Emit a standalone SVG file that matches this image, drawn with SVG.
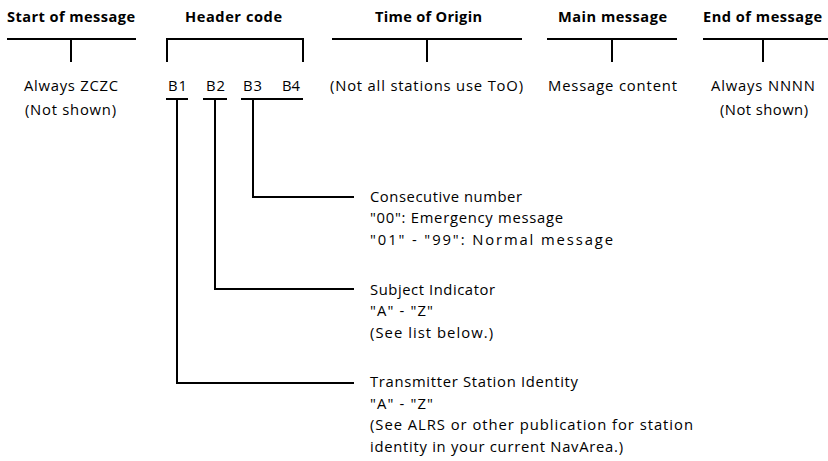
<svg xmlns="http://www.w3.org/2000/svg" width="828" height="461" viewBox="0 0 828 461">
  <style>
    .h { font-family: "Open Sans", "Liberation Sans", sans-serif; font-weight: bold; font-size: 14.6px; fill: #000; }
    .t { font-family: "Open Sans", "Liberation Sans", sans-serif; font-size: 14.8px; fill: #000; }
    .ln { stroke: #000; stroke-width: 2; fill: none; }
  </style>
  <rect width="828" height="461" fill="#fff"/>

  <!-- message sections: title, rule with tick, value -->
  <g id="start">
    <text class="h" x="7" y="21.5" textLength="128">Start of message</text>
    <path class="ln" d="M7 39H136M71 39V62"/>
    <text class="t" x="24" y="90.5" textLength="94">Always ZCZC</text>
    <text class="t" x="25" y="115" textLength="91">(Not shown)</text>
  </g>
  <g id="header">
    <text class="h" x="185" y="21.5" textLength="97">Header code</text>
    <path class="ln" d="M167 62V39H303V62"/>
    <text class="t" x="168" y="90.5" textLength="19">B1</text>
    <text class="t" x="206" y="90.5" textLength="19">B2</text>
    <text class="t" x="243" y="90.5" textLength="19">B3</text>
    <text class="t" x="282" y="90.5" textLength="18">B4</text>
  </g>
  <g id="origin">
    <text class="h" x="375" y="21.5" textLength="107">Time of Origin</text>
    <path class="ln" d="M332 39H522M427 39V62"/>
    <text class="t" x="330" y="90.5" textLength="193">(Not all stations use ToO)</text>
  </g>
  <g id="main">
    <text class="h" x="558" y="21.5" textLength="109">Main message</text>
    <path class="ln" d="M547 39H677M612 39V62"/>
    <text class="t" x="548" y="90.5" textLength="129">Message content</text>
  </g>
  <g id="end">
    <text class="h" x="703" y="21.5" textLength="119">End of message</text>
    <path class="ln" d="M703 39H828M763 39V62"/>
    <text class="t" x="711" y="90.5" textLength="104">Always NNNN</text>
    <text class="t" x="720" y="115" textLength="88">(Not shown)</text>
  </g>

  <!-- field descriptions -->
  <g id="consecutive">
    <text class="t" x="370" y="201.5" textLength="152">Consecutive number</text>
    <text class="t" x="370" y="223" textLength="193">"00": Emergency message</text>
    <text class="t" x="370" y="244.5" textLength="243">"01" - "99": Normal message</text>
  </g>
  <g id="subject">
    <text class="t" x="370" y="294.5" textLength="125">Subject Indicator</text>
    <text class="t" x="370" y="316" textLength="63">"A" - "Z"</text>
    <text class="t" x="370" y="337.5" textLength="123">(See list below.)</text>
  </g>
  <g id="transmitter">
    <text class="t" x="370" y="387" textLength="208">Transmitter Station Identity</text>
    <text class="t" x="370" y="408.5" textLength="63">"A" - "Z"</text>
    <text class="t" x="370" y="430" textLength="323">(See ALRS or other publication for station</text>
    <text class="t" x="370" y="451.5" textLength="253">identity in your current NavArea.)</text>
  </g>

  <!-- connectors: underline each byte group, drop down, run right to its description -->
  <g id="connectors">
    <path class="ln" d="M166 99H188M177 99V383H354"/>
    <path class="ln" d="M203 99H227M215 99V289H354"/>
    <path class="ln" d="M241 99H303M253 99V197H354"/>
  </g>
</svg>
